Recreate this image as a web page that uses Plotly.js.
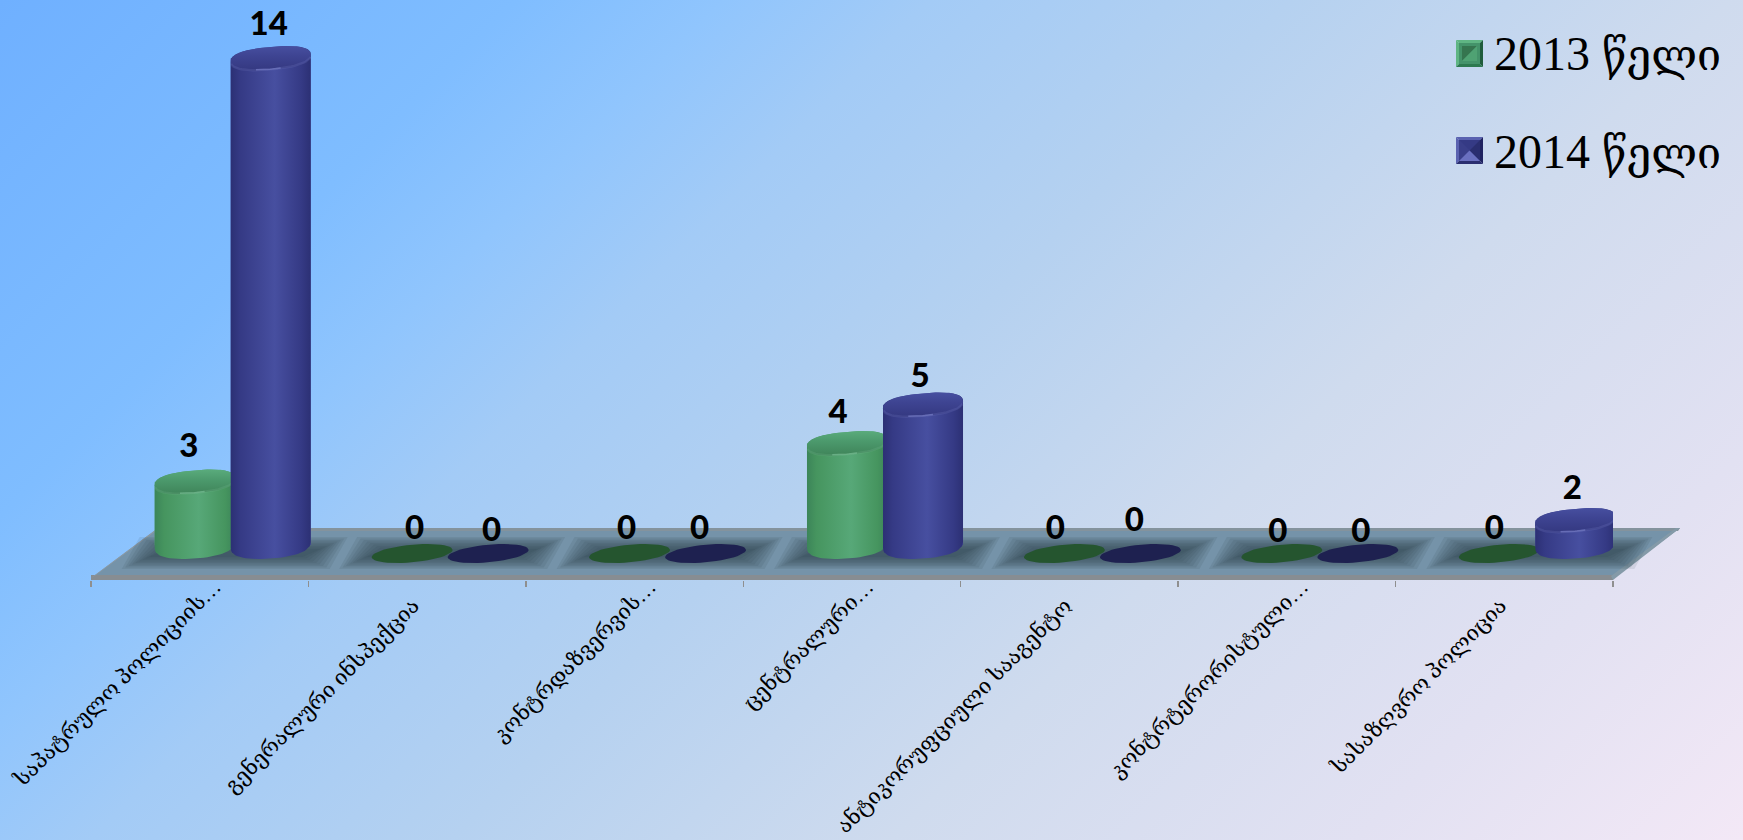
<!DOCTYPE html>
<html><head><meta charset="utf-8">
<script src="https://cdn.plot.ly/plotly-3.0.1.min.js"></script>
<style>
html,body{margin:0;padding:0;width:1743px;height:840px;overflow:hidden}
body{background:linear-gradient(135deg,#6fb0ff 0%,#7fbdff 20%,#90c5fd 28%,#a3cbf6 36%,#b5d1f0 50%,#cfdbee 67%,#e2e1f2 85%,#f3e8f6 100%)}
#chart{width:1743px;height:840px}
</style></head><body><div id="chart"></div>
<script>
const categories = ["საპატრულო პოლიციის…","გენერალური ინსპექცია","კონტრდაზვერვის…","ცენტრალური…","ანტიკორუფციული სააგენტო","კონტრტერორისტული…","სასაზღვრო პოლიცია"];
const values2013 = [3,0,0,4,0,0,0];
const values2014 = [14,0,0,5,0,0,2];
const name2013 = "2013 წელი";
const name2014 = "2014 წელი";

const W=1743,H=840, L=91,R=1613, FLOOR=545, LOWER=640, PX=38.5, AXMIN=1.36;
const CAT=(R-L)/7, barW=80/CAT;
const off13=-0.207, off14=0.1426;
const yMax=AXMIN+FLOOR/PX, yLow=AXMIN-(LOWER-FLOOR)/PX;
const discVal=AXMIN-8.5/PX;
const xp=p=>p/W, yp=p=>1-p/H;
const GEO_SERIF='"Liberation Serif","DejaVu Serif","DejaVu Sans",serif';

// rim curve of a column; cx in category units, cy in value units; a,b,k in px; pw<1 squares it off
function ellipse(cx,cy,a,b,k,t0,t1,n,pw){
  const xs=[],ys=[],p=pw||1;
  for(let i=0;i<=n;i++){const t=t0+(t1-t0)*i/n,c=Math.cos(t),s=Math.sin(t);
    const cc=Math.sign(c)*Math.pow(Math.abs(c),p), ss=Math.sign(s)*Math.pow(Math.abs(s),p);
    xs.push(cx+a*cc/CAT);
    ys.push(cy+(b*ss+k*cc)/PX);}
  return [xs,ys];
}
const T=Math.PI;
function cylinderTraces(vals,off,xa,ya,pal){
  const out=[];
  const c=off+barW/2;
  const discX=[],discY=[];
  const base={type:'scatter',xaxis:xa,yaxis:ya,hoverinfo:'skip',showlegend:false,cliponaxis:false};
  vals.forEach((v,i)=>{
    if(v<=AXMIN){
      const [xs,ys]=ellipse(i+c,discVal,40.5,8.8,3.6,0,2*T,48);
      discX.push(...xs,null);discY.push(...ys,null);
      return;
    }
    const bot=ellipse(i+c,AXMIN,40,13.5,3,0,-T,36,0.85);
    const top=ellipse(i+c,v,40,11.5,3.5,T,0,40,0.8);
    out.push({...base,mode:'lines',x:[...bot[0],...top[0]],y:[...bot[1],...top[1]],fill:'toself',line:{width:0},
      fillgradient:{type:'horizontal',colorscale:[[0,pal.edge],[0.12,pal.side1],[0.55,pal.mid],[0.88,pal.side1],[1,pal.edge]]}});
    const cap=ellipse(i+c,v,40,11.5,3.5,0,2*T,80,0.8);
    out.push({...base,mode:'lines',x:cap[0],y:cap[1],fill:'toself',line:{width:0},
      fillgradient:{type:'vertical',colorscale:[[0,pal.capTop],[0.6,pal.capMid],[1,pal.capFront]]}});
    const soft=ellipse(i+c,v,40,11,3.5,-T*0.95,-T*0.05,30,0.85);
    out.push({...base,mode:'lines',x:soft[0],y:soft[1],line:{width:2.4,color:pal.hl},opacity:0.16});
    const hl=ellipse(i+c,v,40,10.8,3.5,-T*0.62,-T*0.42,12);
    out.push({...base,mode:'lines',x:hl[0],y:hl[1],line:{width:1.6,color:pal.hl},opacity:0.5});
  });
  out.push({...base,mode:'lines',x:discX,y:discY,fill:'toself',fillcolor:pal.disc,line:{width:0}});
  return out;
}
const palG={edge:'#3c8559',side1:'#46955f',mid:'#57a878',capTop:'#3f8459',capMid:'#4c9a6d',capFront:'#5aab7c',hl:'#86cba3',disc:'#25552f'};
const palB={edge:'#2c3074',side1:'#353a85',mid:'#474fa0',capTop:'#343880',capMid:'#3e4492',capFront:'#474fa0',hl:'#8a92dc',disc:'#1e2150'};

// px nudges of the hand-placed value labels relative to each column's top
const dx13=[-6,2.5,-3,-9,-9,-4,-5], up13=[33.5,23,23,28.5,23,20,23];
const dx14=[-2,3.5,-6,-3,-6,3,-3],  up14=[31.5,21,23,26.5,31,20,29.5];
function labels(vals,off,xa,ya,dx,up){
  const c=off+barW/2;
  return {type:'scatter',mode:'text',xaxis:xa,yaxis:ya,cliponaxis:false,hoverinfo:'skip',showlegend:false,
    x:vals.map((v,i)=>i+c+dx[i]/CAT),
    y:vals.map((v,i)=>(v<=AXMIN?discVal:v)+up[i]/PX),
    text:vals.map(String),textposition:'middle center',
    textfont:{family:'Lato, "Open Sans", sans-serif',size:33,color:'#000',weight:900}};
}

const data=[
 {type:'bar',name:name2013,x:categories,y:values2013,width:barW,offset:off13,marker:{color:'#57a878'},xaxis:'x',yaxis:'y',showlegend:false},
 {type:'bar',name:name2014,x:categories,y:values2014,width:barW,offset:off14,marker:{color:'#474fa0'},xaxis:'x',yaxis:'y',showlegend:false},
 ...cylinderTraces(values2013,off13,'x2','y2',palG),
 ...cylinderTraces(values2014,off14,'x3','y3',palB),
 labels(values2013,off13,'x3','y3',dx13,up13),
 labels(values2014,off14,'x3','y3',dx14,up14)
];

// ---- floor, shadows, legend furniture
const shapes=[];
function poly(pts,fill,layer,op){
  shapes.push({type:'path',xref:'paper',yref:'paper',layer:layer||'below',line:{width:0},fillcolor:fill,opacity:op==null?1:op,
    path:'M'+pts.map(p=>xp(p[0])+','+yp(p[1])).join('L')+'Z'});
}
poly([[91,578],[158,528],[1680,528],[1613,578]],'#7593a9');
poly([[158,528],[1680,528],[1678,531],[156,531]],'#84939d');
poly([[91,575],[1613,575],[1613,580],[91,580]],'#878d92');
poly([[91,578],[158,528],[160,528],[96,575]],'#8e9aa3');
poly([[1613,580],[1680,528],[1676,528],[1611,576]],'#849aa8');
categories.forEach((c,i)=>{
  const cx=L+CAT*(i+0.5);
  for(let s=0;s<9;s++){
    const hw=104-s*3.4, t=537+s*1.5, b=569-s*1.5;
    poly([[cx+44-hw,t],[cx+44+hw,t],[cx+26+hw,b],[cx+26-hw,b]],'#2c3846','below',0.1);
  }
});
function swatch(x,y,frame,inner){
  const s=27,i=3;
  const a=[x+i,y+i],b=[x+s-i,y+i],c=[x+s-i,y+s-i],d=[x+i,y+s-i],m=[x+s/2,y+s/2];
  poly([[x,y],[x+s,y],b,a],frame[0],'above');
  poly([[x,y],a,d,[x,y+s]],frame[1],'above');
  poly([[x+s,y],[x+s,y+s],c,b],frame[2],'above');
  poly([[x,y+s],d,c,[x+s,y+s]],frame[3],'above');
  poly([a,b,c,d],inner[0],'above');
  inner[1].forEach(f=>{
    const p={top:[a,b,m],left:[a,d,m],right:[b,c,m],bottom:[d,c,m],ul:[[a[0]+3,a[1]+3],[b[0]-3,b[1]+3],[d[0]+3,d[1]-3]],lr:[[b[0]-3,b[1]+3],[c[0]-3,c[1]-3],[d[0]+3,d[1]-3]]}[f[0]];
    poly(p,f[1],'above');
  });
}
swatch(1456,40,['#5fb583','#5fb583','#1f5c3c','#2d7a50'],['#44936a',[['ul','#35754f'],['lr','#4fa273']]]);
swatch(1456,137,['#5a62b0','#5a62b0','#1f2260','#2a2e70'],['#3a3f8a',[['top','#353a85'],['left','#3a3f8a'],['right','#2a2e70'],['bottom','#6a70c0']]]);

const legendFont={family:GEO_SERIF,size:48,color:'#000'};
const legendText=t=>{const [y,g]=t.split(' ');return y+' <span style="font-size:43px">'+g+'</span>';};
const annotations=[
 {xref:'paper',yref:'paper',x:xp(1492),y:yp(54),xanchor:'left',yanchor:'middle',text:legendText(name2013),showarrow:false,font:legendFont},
 {xref:'paper',yref:'paper',x:xp(1492),y:yp(151),xanchor:'left',yanchor:'middle',text:legendText(name2014),showarrow:false,font:legendFont}
];

const tickLabels=categories.map(c=>c.endsWith('…')?c:c+'\u00a0\u00a0\u00a0\u00a0\u00a0');
const domX=[L/W,R/W];
const hiddenX=ya=>({type:'linear',domain:domX,range:[-0.5,6.5],visible:false,anchor:ya,fixedrange:true});
const hiddenY=xa=>({domain:[(H-LOWER)/H,1],range:[yLow,yMax],visible:false,anchor:xa,fixedrange:true});
Plotly.newPlot('chart',data,{
  width:W,height:H,margin:{l:0,r:0,t:0,b:0,pad:0},
  paper_bgcolor:'rgba(0,0,0,0)',plot_bgcolor:'rgba(0,0,0,0)',showlegend:false,
  xaxis:{type:'category',categoryorder:'array',categoryarray:categories,domain:domX,range:[-0.5,6.5],
    anchor:'free',position:(H-580)/H,tickson:'boundaries',ticks:'outside',ticklen:6,tickwidth:1.5,tickcolor:'#8f8f8f',
    tickmode:'array',tickvals:categories,ticktext:tickLabels,
    showgrid:false,zeroline:false,showline:false,tickangle:-45,ticklabelstandoff:-11,ticklabelshift:15,
    tickfont:{family:GEO_SERIF,size:21.5,color:'#000'},automargin:false,fixedrange:true},
  xaxis2:hiddenX('y2'),xaxis3:hiddenX('y3'),
  yaxis:{domain:[(H-FLOOR)/H,1],range:[AXMIN,yMax],visible:false,fixedrange:true},
  yaxis2:hiddenY('x2'),yaxis3:hiddenY('x3'),
  shapes,annotations,hovermode:false
},{displayModeBar:false,staticPlot:true});
</script></body></html>
